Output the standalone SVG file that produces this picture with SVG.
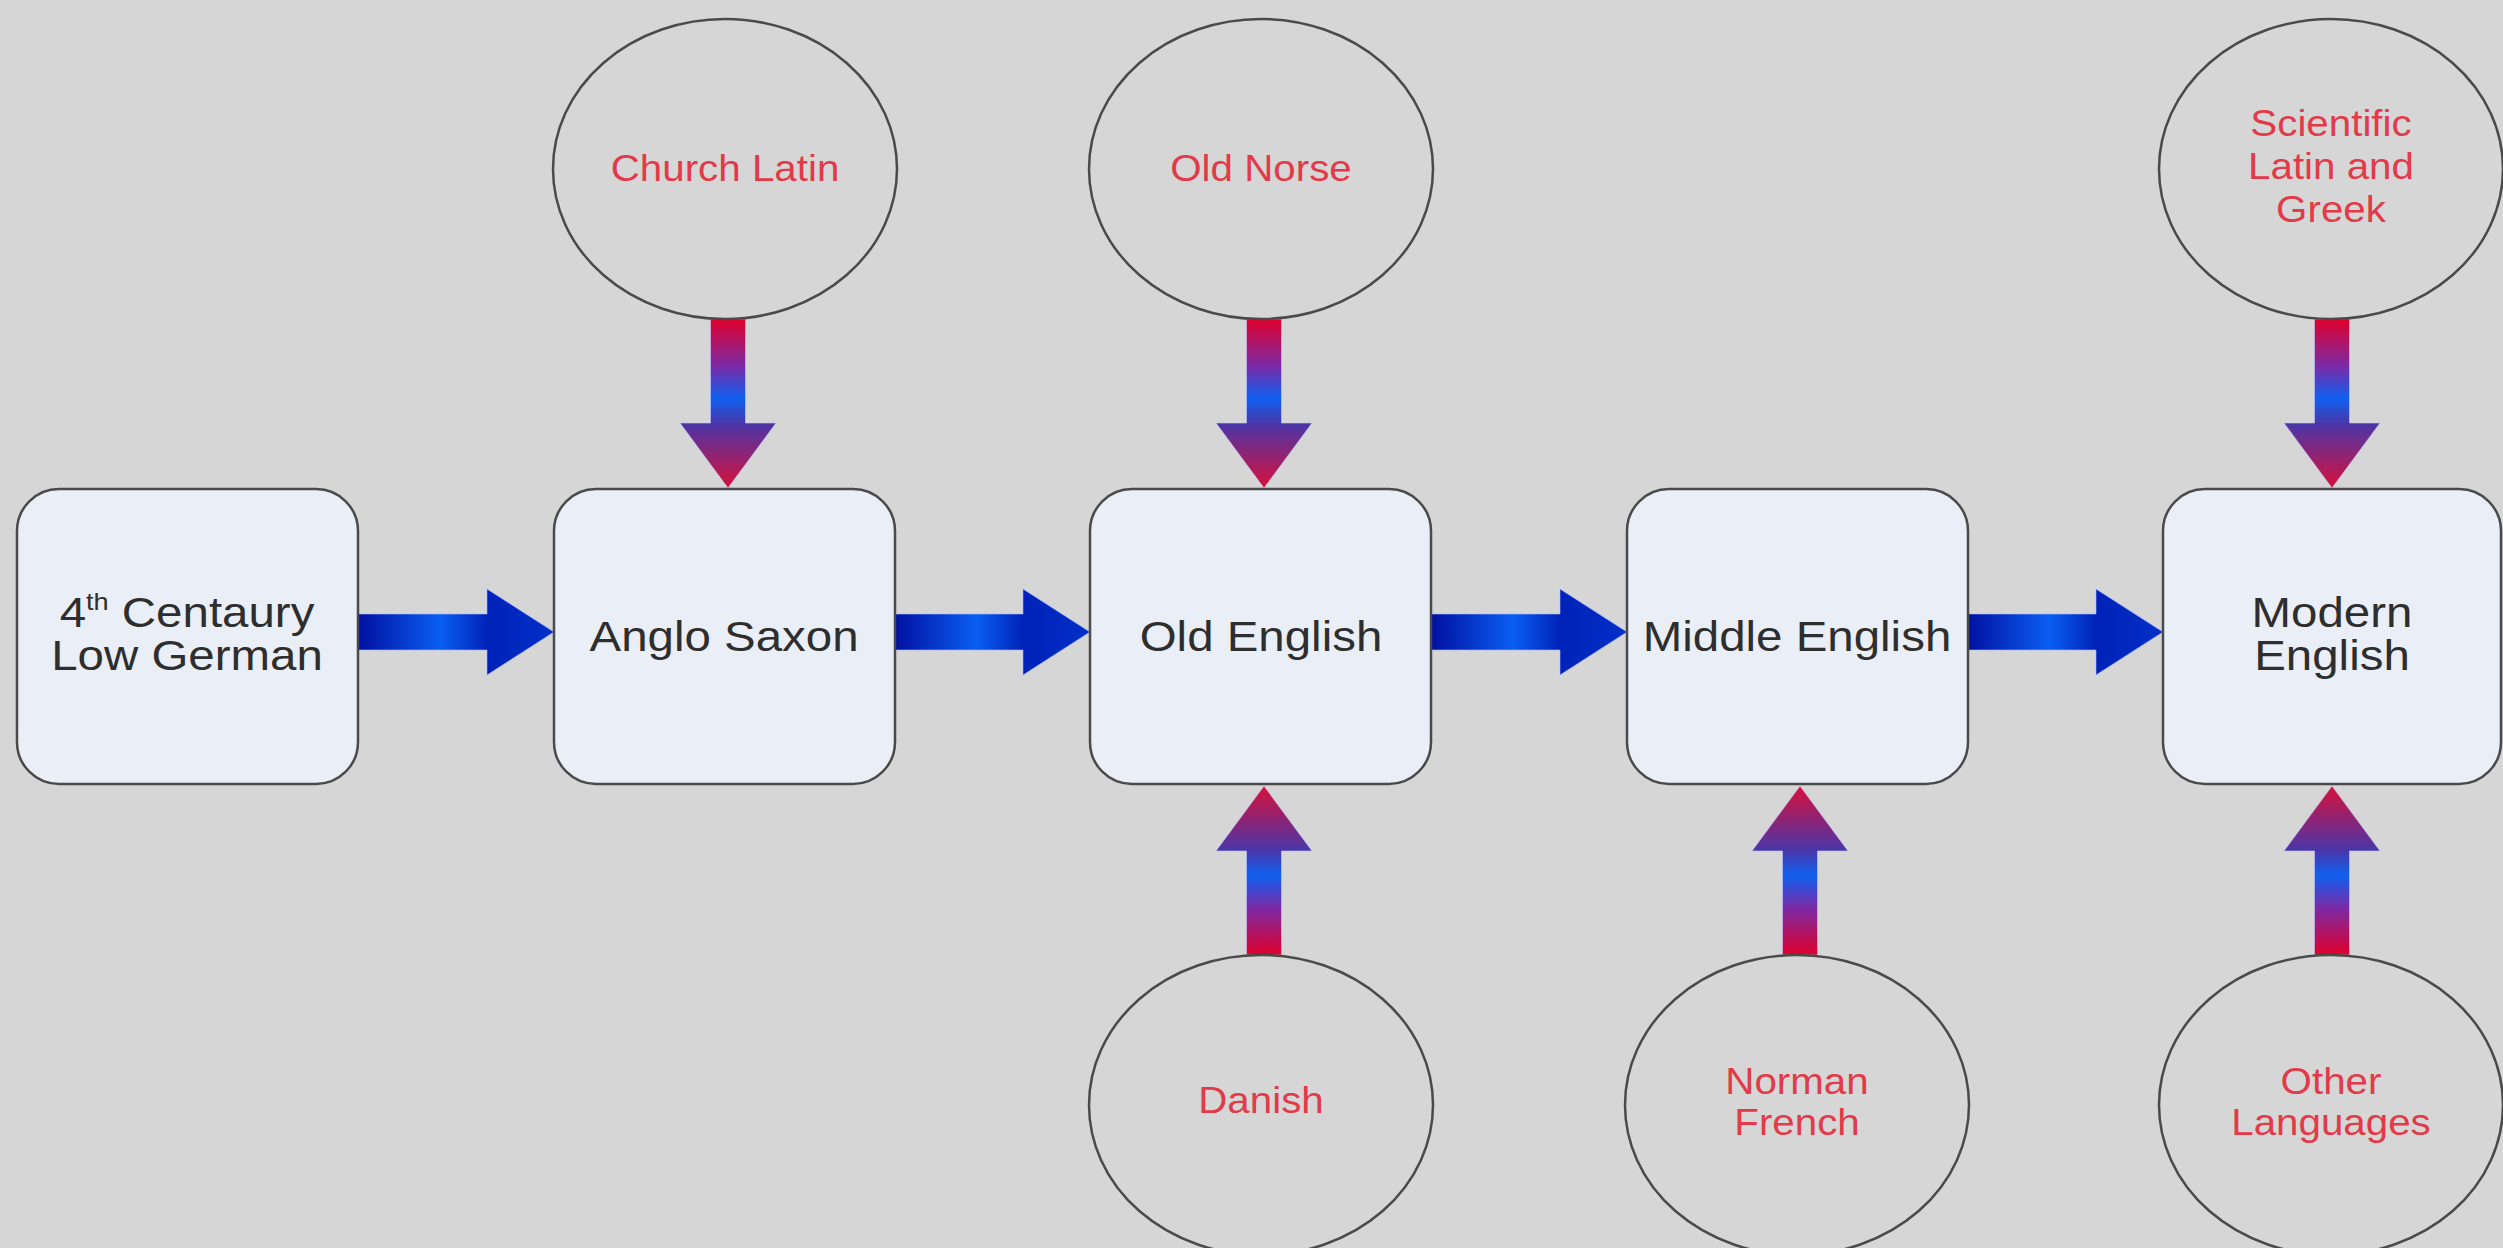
<svg xmlns="http://www.w3.org/2000/svg" xmlns:xlink="http://www.w3.org/1999/xlink" width="2503" height="1248" viewBox="0 0 2503 1248">
<style>
.box{fill:#eaeef6;stroke:#4a4a4a;stroke-width:2.5}
.circ{fill:none;stroke:#4a4a4a;stroke-width:2.5}
.bt{font-family:"Liberation Sans",Arial,sans-serif;font-size:42px;fill:#2e2e2e;text-anchor:middle}
.ct{font-family:"Liberation Sans",Arial,sans-serif;font-size:37px;fill:#e23a48;text-anchor:middle}
</style>
<defs>
<linearGradient id="hg" x1="0" y1="0" x2="1" y2="0">
<stop offset="0" stop-color="#0010a0"/>
<stop offset="0.42" stop-color="#0a5ef2"/>
<stop offset="0.66" stop-color="#0022b8"/>
<stop offset="1" stop-color="#0030c8"/>
</linearGradient>
<linearGradient id="vg" x1="0" y1="0" x2="0" y2="1">
<stop offset="0" stop-color="#e0002a"/>
<stop offset="0.28" stop-color="#7a2aa6"/>
<stop offset="0.47" stop-color="#1060f0"/>
<stop offset="0.62" stop-color="#4a36a8"/>
<stop offset="1" stop-color="#d8103a"/>
</linearGradient>
<path id="ha" d="M0,-18 H129 V-43 L196,0 L129,43 V18 H0 Z" fill="url(#hg)" stroke="#a8b8ff" stroke-width="1" stroke-opacity="0.6"/>
<path id="va" d="M-17.5,0 H17.5 V104 H48 L0,169 L-48,104 H-17.5 Z" fill="url(#vg)" stroke="#c0c8ff" stroke-width="1" stroke-opacity="0.6"/>
</defs>
<rect width="2503" height="1248" fill="#d6d6d6"/>

<g id="connectors">
<use xlink:href="#ha" x="358" y="632"/>
<use xlink:href="#ha" x="894" y="632"/>
<use xlink:href="#ha" x="1431" y="632"/>
<use xlink:href="#ha" x="1967" y="632"/>
<use xlink:href="#va" transform="translate(728,319)"/>
<use xlink:href="#va" transform="translate(1264,319)"/>
<use xlink:href="#va" transform="translate(2332,319)"/>
<use xlink:href="#va" transform="translate(1264,955) scale(1,-1)"/>
<use xlink:href="#va" transform="translate(1800,955) scale(1,-1)"/>
<use xlink:href="#va" transform="translate(2332,955) scale(1,-1)"/>
</g>

<g id="n-lowgerman">
<rect class="box" x="17" y="489" width="341" height="295" rx="42"/>
<g transform="translate(187,0) scale(1.13,1)">
<text class="bt" x="0" y="627">4<tspan font-size="24" dy="-17">th</tspan><tspan dy="17"> Centaury</tspan></text>
<text class="bt" x="0" y="670">Low German</text>
</g>
</g>
<g id="n-anglosaxon">
<rect class="box" x="554" y="489" width="341" height="295" rx="42"/>
<text class="bt" transform="translate(724,651) scale(1.13,1)">Anglo Saxon</text>
</g>
<g id="n-oldenglish">
<rect class="box" x="1090" y="489" width="341" height="295" rx="42"/>
<text class="bt" transform="translate(1261,651) scale(1.13,1)">Old English</text>
</g>
<g id="n-middleenglish">
<rect class="box" x="1627" y="489" width="341" height="295" rx="42"/>
<text class="bt" transform="translate(1797,651) scale(1.13,1)">Middle English</text>
</g>
<g id="n-modernenglish">
<rect class="box" x="2163" y="489" width="338" height="295" rx="42"/>
<g transform="translate(2332,0) scale(1.13,1)">
<text class="bt" x="0" y="627">Modern</text>
<text class="bt" x="0" y="670">English</text>
</g>
</g>

<g id="n-churchlatin">
<ellipse class="circ" cx="725" cy="169" rx="172" ry="150"/>
<text class="ct" transform="translate(725,181) scale(1.09,1)">Church Latin</text>
</g>
<g id="n-oldnorse">
<ellipse class="circ" cx="1261" cy="169" rx="172" ry="150"/>
<text class="ct" transform="translate(1261,181) scale(1.09,1)">Old Norse</text>
</g>
<g id="n-scientific">
<ellipse class="circ" cx="2331" cy="169" rx="172" ry="150"/>
<g transform="translate(2331,0) scale(1.09,1)">
<text class="ct" x="0" y="136">Scientific</text>
<text class="ct" x="0" y="179">Latin and</text>
<text class="ct" x="0" y="222">Greek</text>
</g>
</g>
<g id="n-danish">
<ellipse class="circ" cx="1261" cy="1105" rx="172" ry="150"/>
<text class="ct" transform="translate(1261,1113) scale(1.09,1)">Danish</text>
</g>
<g id="n-normanfrench">
<ellipse class="circ" cx="1797" cy="1105" rx="172" ry="150"/>
<g transform="translate(1797,0) scale(1.09,1)">
<text class="ct" x="0" y="1094">Norman</text>
<text class="ct" x="0" y="1135">French</text>
</g>
</g>
<g id="n-otherlanguages">
<ellipse class="circ" cx="2331" cy="1105" rx="172" ry="150"/>
<g transform="translate(2331,0) scale(1.09,1)">
<text class="ct" x="0" y="1094">Other</text>
<text class="ct" x="0" y="1135">Languages</text>
</g>
</g>
</svg>
